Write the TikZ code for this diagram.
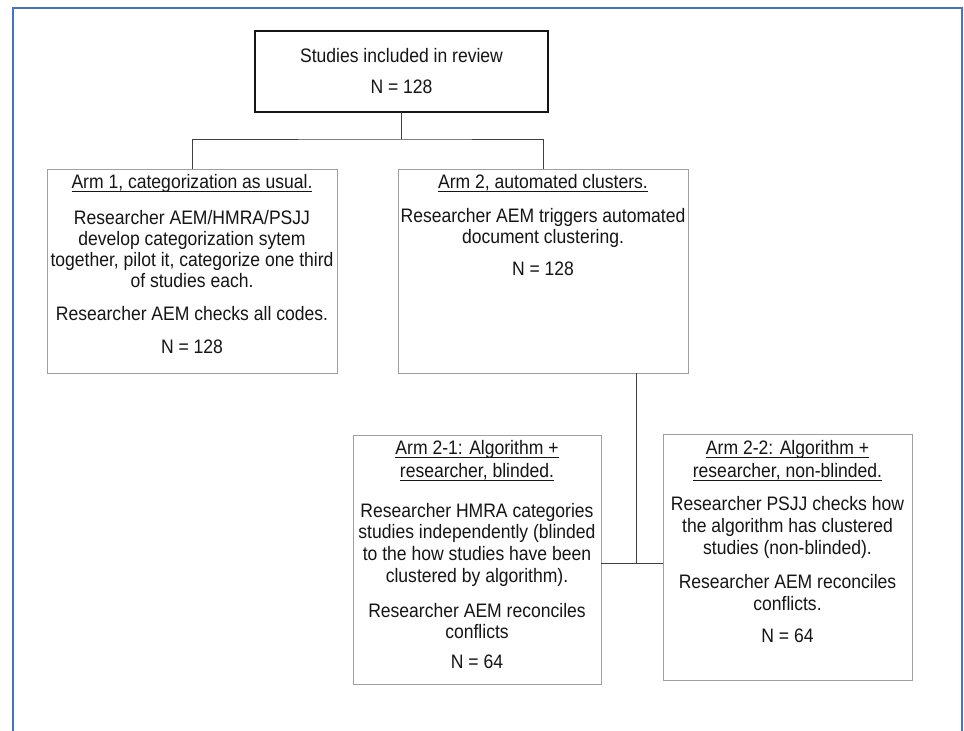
\documentclass[tikz,border=0pt]{standalone}
\usepackage{fontspec}
\setmainfont[FakeStretch=0.9]{Liberation Sans}
\newcommand\ulx[1]{\setbox0\hbox{#1}\rlap{\rule[-3.5pt]{\wd0}{0.9pt}}\box0}
\definecolor{frameblue}{HTML}{4472C4}
\definecolor{ink}{HTML}{151515}
\definecolor{boxgray}{HTML}{A0A0A0}
\definecolor{linegray}{HTML}{404040}
\begin{document}
\begin{tikzpicture}[x=1pt,y=-1pt,
  box/.style={draw=boxgray, line width=1pt, inner sep=0pt, outer sep=0pt},
  topbox/.style={draw=ink, line width=1.8pt, inner sep=0pt, outer sep=0pt},
  ln/.style={anchor=base, inner sep=0pt, text=ink, font=\fontsize{19.5}{21}\selectfont},
  conn/.style={draw=linegray, line width=1pt}]
\useasboundingbox (0,0) rectangle (964,731);
\fill[white] (0,0) rectangle (964,731);
\draw[frameblue, line width=2pt] (13,740) -- (13,8) -- (962,8) -- (962,740);

% boxes
\node[topbox, minimum width=293pt, minimum height=81pt] (top) at (401.5,71.5) {};
\node[box, minimum width=290pt, minimum height=204pt] (arm1) at (192,271) {};
\node[box, minimum width=290pt, minimum height=204pt] (arm2) at (543,271) {};
\node[box, minimum width=248pt, minimum height=249pt] (a21) at (477,559.5) {};
\node[box, minimum width=249pt, minimum height=246pt] (a22) at (787.5,557) {};

% connectors
\coordinate (split) at (401.5,139);
\coordinate (j) at (636,563);
\draw[conn] (top.south) -- (split);
\draw[conn] (arm1.north) |- (split) -| (arm2.north);
\draw[conn] (arm2.south -| j) -- (j);
\draw[conn] (a21.east |- j) -- (a22.west |- j);

% top text
\node[ln] (t1) at (401.5,62) {Studies included in review};
\node[ln] (t2) at (401.5,93) {N = 128};

% arm 1
\node[ln] (a1t) at (192,188) {\ulx{Arm 1, categorization as usual.}};
\node[ln] (a1l1) at (192,224) {Researcher AEM/HMRA/PSJJ};
\node[ln] (a1l2) at (192,245) {develop categorization sytem};
\node[ln] (a1l3) at (192,266) {together, pilot it, categorize one third};
\node[ln] (a1l4) at (192,287) {of studies each.};
\node[ln] (a1l5) at (192,320) {Researcher AEM checks all codes.};
\node[ln] (a1n) at (192,353) {N = 128};

% arm 2
\node[ln] (a2t) at (543,188) {\ulx{Arm 2, automated clusters.}};
\node[ln] (a2l1) at (543,222) {Researcher AEM triggers automated};
\node[ln] (a2l2) at (543,243) {document clustering.};
\node[ln] (a2n) at (543,275) {N = 128};

% arm 2-1
\node[ln] (b1t1) at (477,454) {\ulx{Arm 2-1: Algorithm +}};
\node[ln] (b1t2) at (477,477) {\ulx{researcher, blinded.}};
\node[ln] (b1l1) at (477,517) {Researcher HMRA categories};
\node[ln] (b1l2) at (477,538) {studies independently (blinded};
\node[ln] (b1l3) at (477,560) {to the how studies have been};
\node[ln] (b1l4) at (477,582) {clustered by algorithm).};
\node[ln] (b1l5) at (477,617) {Researcher AEM reconciles};
\node[ln] (b1l6) at (477,638) {conflicts};
\node[ln] (b1n) at (477,668) {N = 64};

% arm 2-2
\node[ln] (b2t1) at (787.5,454) {\ulx{Arm 2-2: Algorithm +}};
\node[ln] (b2t2) at (787.5,477) {\ulx{researcher, non-blinded.}};
\node[ln] (b2l1) at (787.5,510) {Researcher PSJJ checks how};
\node[ln] (b2l2) at (787.5,532) {the algorithm has clustered};
\node[ln] (b2l3) at (787.5,554) {studies (non-blinded).};
\node[ln] (b2l4) at (787.5,588) {Researcher AEM reconciles};
\node[ln] (b2l5) at (787.5,610) {conflicts.};
\node[ln] (b2n) at (787.5,642) {N = 64};
\end{tikzpicture}
\end{document}
